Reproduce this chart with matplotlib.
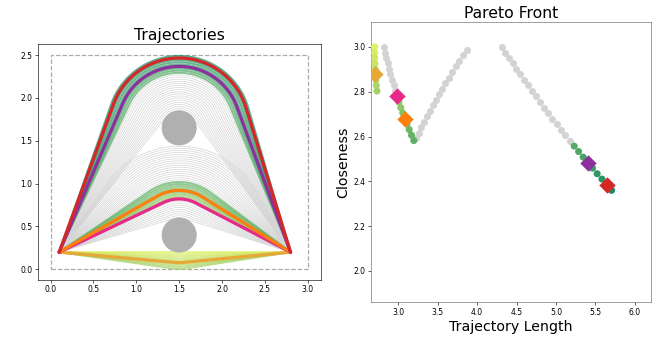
import numpy as np
import matplotlib
matplotlib.use("Agg")
import matplotlib.pyplot as plt
from matplotlib.patches import Circle, Rectangle

# ---------------- data ----------------
start = (0.1, 0.2)
goal = (2.8, 0.2)
obstacle_x = [1.5, 1.5]
obstacle_y = [0.4, 1.65]
obstacle_r = [0.2, 0.2]
bounds = (0.0, 0.0, 3.0, 2.5)

# clearance offsets of each trajectory family (radius = obstacle_r + offset)
bottom_offsets = [0.0, 0.025, 0.049, 0.074, 0.098, 0.123, 0.148, 0.172, 0.197]
middle_offsets = [0.0, 0.025, 0.049, 0.074, 0.098, 0.123, 0.148, 0.172, 0.197,
                  0.221, 0.246, 0.271, 0.295, 0.32, 0.344, 0.369, 0.394, 0.418,
                  0.443, 0.468, 0.492, 0.517, 0.541, 0.566, 0.591, 0.615, 0.64,
                  0.665, 0.689, 0.714, 0.738, 0.763, 0.787, 0.812, 0.836]
upper_offsets = [0.0, 0.025, 0.049, 0.074, 0.098, 0.123, 0.148, 0.172, 0.197,
                 0.221, 0.246, 0.271, 0.295, 0.32, 0.344, 0.369, 0.394, 0.418,
                 0.443, 0.468, 0.492, 0.517, 0.541, 0.566, 0.591, 0.615, 0.64]

bottom_length = [2.700, 2.700, 2.702, 2.704, 2.707, 2.711, 2.716, 2.722, 2.729]
bottom_close = [3.0, 2.975, 2.951, 2.926, 2.902, 2.877, 2.852, 2.828, 2.803]
middle_length = [2.818, 2.833, 2.848, 2.865, 2.883, 2.901, 2.921, 2.942, 2.963,
                 2.985, 3.008, 3.032, 3.057, 3.083, 3.110, 3.138, 3.167, 3.197,
                 3.228, 3.260, 3.293, 3.327, 3.362, 3.398, 3.435, 3.473, 3.512,
                 3.553, 3.594, 3.637, 3.681, 3.726, 3.773, 3.821, 3.871]
middle_close = [3.0, 2.975, 2.951, 2.926, 2.902, 2.877, 2.852, 2.828, 2.803,
                2.779, 2.754, 2.729, 2.705, 2.680, 2.656, 2.631, 2.606, 2.582,
                2.593, 2.617, 2.642, 2.667, 2.691, 2.716, 2.740, 2.765, 2.790,
                2.814, 2.839, 2.863, 2.888, 2.913, 2.937, 2.962, 2.986]
upper_length = [4.312, 4.357, 4.403, 4.451, 4.498, 4.546, 4.595, 4.644, 4.694,
                4.745, 4.797, 4.849, 4.901, 4.954, 5.008, 5.063, 5.118, 5.174,
                5.230, 5.286, 5.344, 5.402, 5.462, 5.521, 5.582, 5.642, 5.704]
upper_close = [3.0, 2.975, 2.951, 2.926, 2.902, 2.877, 2.852, 2.828, 2.803,
               2.779, 2.754, 2.729, 2.705, 2.680, 2.656, 2.631, 2.606, 2.582,
               2.557, 2.533, 2.508, 2.483, 2.459, 2.434, 2.410, 2.385, 2.360]

# Pareto-optimal members (index ranges inside each family)
bottom_pareto = [0, 1, 2, 3, 4, 5, 6, 7, 8]
middle_pareto = [9, 10, 11, 12, 13, 14, 15, 16, 17]
upper_pareto = [18, 19, 20, 21, 22, 23, 24, 25, 26]

# highlighted trajectories: (family, index, colour)
highlights = [("bottom", 5, "#e8a838"),
              ("middle", 9, "#e7298a"),
              ("middle", 13, "#ff7f0e"),
              ("upper", 21, "#8e2fa0"),
              ("upper", 25, "#d62728")]

# ---------------- geometry helper ----------------
def path_around(cx, cy, r, over, n=90):
    sx, sy = start
    gx, gy = goal
    dS = np.hypot(sx - cx, sy - cy)
    dG = np.hypot(gx - cx, gy - cy)
    tS = np.degrees(np.arctan2(sy - cy, sx - cx)) % 360
    tG = np.degrees(np.arctan2(gy - cy, gx - cx))
    aS = np.degrees(np.arccos(min(r / dS, 1.0)))
    aG = np.degrees(np.arccos(min(r / dG, 1.0)))
    if over:
        p0, p1 = tS - aS, tG + aG
    else:
        p0, p1 = tS + aS, (tG - aG) % 360
    phi = np.radians(np.linspace(p0, p1, n))
    xs = np.concatenate([[sx], cx + r * np.cos(phi), [gx]])
    ys = np.concatenate([[sy], cy + r * np.sin(phi), [gy]])
    return xs, ys

families = {
    "bottom": (obstacle_x[0], obstacle_y[0], obstacle_r[0], False, bottom_offsets,
               bottom_length, bottom_close, bottom_pareto),
    "middle": (obstacle_x[0], obstacle_y[0], obstacle_r[0], True, middle_offsets,
               middle_length, middle_close, middle_pareto),
    "upper": (obstacle_x[1], obstacle_y[1], obstacle_r[1], True, upper_offsets,
              upper_length, upper_close, upper_pareto),
}
order = ["bottom", "middle", "upper"]

n_pareto = sum(len(families[f][7]) for f in order)
cmap = plt.get_cmap("summer")
pareto_vals = np.linspace(0.88, 0.1, n_pareto)
pareto_colors = {}
i = 0
for f in order:
    for k in families[f][7]:
        pareto_colors[(f, k)] = cmap(pareto_vals[i])
        i += 1

# ---------------- figure ----------------
DPI = 55
fig = plt.figure(figsize=(659 / DPI, 337 / DPI), dpi=DPI)
axL = fig.add_axes([0.0566, 0.1691, 0.4305, 0.6994])
axR = fig.add_axes([0.5625, 0.103, 0.4249, 0.8309])

# left: trajectories
for f in order:
    cx, cy, r0, over, offs, L, C, par = families[f]
    for k, off in enumerate(offs):
        if k in par:
            continue
        xs, ys = path_around(cx, cy, r0 + off, over)
        axL.plot(xs, ys, color="#d4d4d4", lw=0.9, zorder=1)
for f in order:
    cx, cy, r0, over, offs, L, C, par = families[f]
    for k in par:
        xs, ys = path_around(cx, cy, r0 + offs[k], over)
        axL.plot(xs, ys, color=pareto_colors[(f, k)], lw=2.6, alpha=0.72, zorder=2)
for f, k, col in highlights:
    cx, cy, r0, over, offs, L, C, par = families[f]
    xs, ys = path_around(cx, cy, r0 + offs[k], over)
    axL.plot(xs, ys, color=col, lw=4.2, zorder=3, solid_capstyle="round")

for ox, oy, orad in zip(obstacle_x, obstacle_y, obstacle_r):
    axL.add_patch(Circle((ox, oy), orad, color="#b0b0b0", zorder=4))
axL.add_patch(Rectangle((bounds[0], bounds[1]), bounds[2], bounds[3], fill=False,
                        ls="--", lw=1.6, ec="#aaaaaa", zorder=0))
axL.set_xlim(-0.15, 3.15)
axL.set_ylim(-0.125, 2.625)
axL.set_aspect("equal")
axL.set_xticks([0.0, 0.5, 1.0, 1.5, 2.0, 2.5, 3.0])
axL.set_yticks([0.0, 0.5, 1.0, 1.5, 2.0, 2.5])
axL.tick_params(labelsize=10)
axL.set_title("Trajectories", fontsize=20.5)

# right: pareto front
for f in order:
    cx, cy, r0, over, offs, L, C, par = families[f]
    gx = [L[k] for k in range(len(L)) if k not in par]
    gy = [C[k] for k in range(len(C)) if k not in par]
    axR.scatter(gx, gy, s=85, color="#d3d3d3", lw=0, zorder=2)
for f in order:
    cx, cy, r0, over, offs, L, C, par = families[f]
    axR.scatter([L[k] for k in par], [C[k] for k in par], s=85, lw=0,
                color=[pareto_colors[(f, k)] for k in par], zorder=3)
for f, k, col in highlights:
    L, C = families[f][5], families[f][6]
    axR.scatter([L[k]], [C[k]], marker="D", s=230, color=col, lw=0, zorder=4)

axR.set_xlim(2.65, 6.2)
axR.set_ylim(1.86, 3.11)
axR.set_xticks([3.0, 3.5, 4.0, 4.5, 5.0, 5.5, 6.0])
axR.set_yticks([2.0, 2.2, 2.4, 2.6, 2.8, 3.0])
axR.tick_params(labelsize=10)
for sp in axR.spines.values():
    sp.set_color("#666666")
axR.set_title("Pareto Front", fontsize=20.5)
axR.set_xlabel("Trajectory Length", fontsize=18.5)
axR.set_ylabel("Closeness", fontsize=18.5)

fig.savefig("out.png", dpi=DPI)
